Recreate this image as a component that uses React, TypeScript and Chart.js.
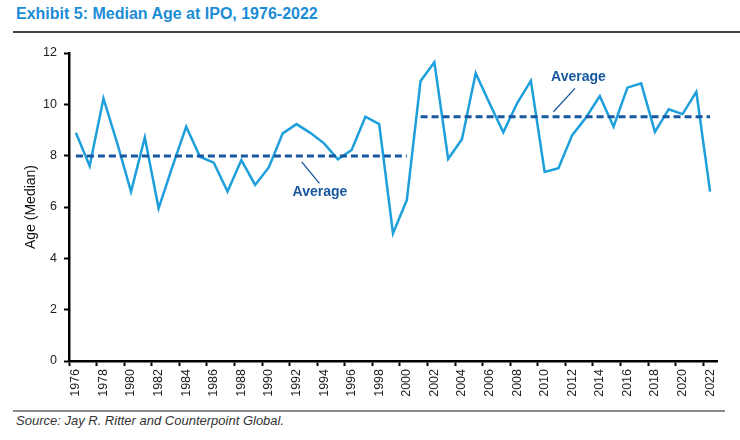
import React, { useEffect, useRef } from "react";
import { Chart, registerables } from "chart.js";

Chart.register(...registerables);

const years = [
  "1976", "1977", "1978", "1979", "1980", "1981", "1982", "1983", "1984", "1985",
  "1986", "1987", "1988", "1989", "1990", "1991", "1992", "1993", "1994", "1995",
  "1996", "1997", "1998", "1999", "2000", "2001", "2002", "2003", "2004", "2005",
  "2006", "2007", "2008", "2009", "2010", "2011", "2012", "2013", "2014", "2015",
  "2016", "2017", "2018", "2019", "2020", "2021", "2022",
];

const medianAge = [
  8.89, 7.6, 10.23, 8.48, 6.6, 8.71, 5.95, 7.57, 9.13, 7.96,
  7.73, 6.6, 7.83, 6.86, 7.55, 8.87, 9.23, 8.89, 8.48, 7.86,
  8.22, 9.52, 9.23, 4.97, 6.27, 10.91, 11.64, 7.87, 8.64, 11.21,
  10.04, 8.91, 10.04, 10.92, 7.37, 7.51, 8.8, 9.49, 10.32, 9.13,
  10.65, 10.82, 8.93, 9.81, 9.62, 10.49, 6.6,
];

const average1976to2000 = 7.99;
const average2001to2022 = 9.52;
const firstPeriodLastYear = "2000";

const yTicks = [0, 2, 4, 6, 8, 10, 12];

// Annotation anchors in data units (category index, value)
const avgLabels = [
  { text: "Average", x: 17.7, y: 6.56, from: [16.38, 7.76], to: [17.66, 6.92] },
  { text: "Average", x: 36.45, y: 11.05, from: [34.64, 9.71], to: [36.2, 10.62] },
];

const FONT = "'Liberation Sans', Arial, sans-serif";
const LINE_BLUE = "#1d9fdc";
const AVG_BLUE = "#17579f";

const avgLabelPlugin = {
  id: "avgLabels",
  afterDatasetsDraw(chart: any) {
    const { ctx, scales } = chart;
    const xs = scales.x;
    const ys = scales.y;
    ctx.save();
    avgLabels.forEach((a) => {
      ctx.strokeStyle = AVG_BLUE;
      ctx.lineWidth = 1.3;
      ctx.beginPath();
      ctx.moveTo(xs.getPixelForValue(a.from[0]), ys.getPixelForValue(a.from[1]));
      ctx.lineTo(xs.getPixelForValue(a.to[0]), ys.getPixelForValue(a.to[1]));
      ctx.stroke();
      ctx.fillStyle = AVG_BLUE;
      ctx.font = `bold 14px ${FONT}`;
      ctx.textAlign = "center";
      ctx.textBaseline = "middle";
      ctx.fillText(a.text, xs.getPixelForValue(a.x), ys.getPixelForValue(a.y));
    });
    ctx.restore();
  },
};

export default function App() {
  const canvasRef = useRef<HTMLCanvasElement | null>(null);

  useEffect(() => {
    if (!canvasRef.current) return;
    const avg1 = years.map((y) => (y <= firstPeriodLastYear ? average1976to2000 : null));
    const avg2 = years.map((y) => (y > firstPeriodLastYear ? average2001to2022 : null));
    const chart = new Chart(canvasRef.current, {
      type: "line",
      data: {
        labels: years,
        datasets: [
          {
            label: "Median age",
            data: medianAge,
            borderColor: LINE_BLUE,
            borderWidth: 2.5,
            pointRadius: 0,
            tension: 0,
            order: 2,
          },
          {
            label: "Average 1976-2000",
            data: avg1,
            borderColor: AVG_BLUE,
            borderWidth: 3,
            borderDash: [7, 4],
            pointRadius: 0,
            spanGaps: false,
            order: 1,
          },
          {
            label: "Average 2001-2022",
            data: avg2,
            borderColor: AVG_BLUE,
            borderWidth: 3,
            borderDash: [7, 4],
            pointRadius: 0,
            spanGaps: false,
            order: 1,
          },
        ],
      },
      options: {
        animation: false,
        responsive: true,
        maintainAspectRatio: false,
        layout: { padding: { left: 0, right: 23, top: 17, bottom: 0 } },
        plugins: {
          legend: { display: false },
          tooltip: { enabled: false },
        },
        scales: {
          x: {
            type: "category",
            offset: true,
            afterFit: (s: any) => {
              s.height = 45;
            },
            grid: {
              offset: true,
              drawOnChartArea: false,
              drawTicks: true,
              tickLength: 5,
              tickWidth: 2,
              tickColor: (c: any) =>
                typeof c.index === "number" && c.index % 2 === 0 ? "#000" : "rgba(0,0,0,0)",
            },
            border: { color: "#000", width: 2.5 },
            ticks: {
              autoSkip: false,
              maxRotation: 90,
              minRotation: 90,
              padding: 3,
              color: "#222",
              font: { family: FONT, size: 12.5 },
              callback: (_v: any, i: number) => (i % 2 === 0 ? years[i] : ""),
            },
          },
          y: {
            min: 0,
            max: 12,
            afterFit: (s: any) => {
              s.width = 69;
            },
            afterBuildTicks: (s: any) => {
              s.ticks = yTicks.map((v) => ({ value: v }));
            },
            grid: {
              drawOnChartArea: false,
              tickLength: 5,
              tickWidth: 2,
              tickColor: "#000",
            },
            border: { color: "#000", width: 2.5 },
            ticks: {
              padding: 7,
              color: "#222",
              font: { family: FONT, size: 12.5 },
            },
            title: {
              display: true,
              text: "Age (Median)",
              color: "#111",
              font: { family: FONT, size: 14 },
              padding: { top: 23, bottom: 0 },
            },
          },
        },
      },
      plugins: [avgLabelPlugin],
    });
    return () => chart.destroy();
  }, []);

  return (
    <div
      style={{
        position: "fixed",
        left: 0,
        top: 0,
        width: 740,
        height: 440,
        background: "#fff",
        fontFamily: FONT,
      }}
    >
      <div
        style={{
          position: "absolute",
          left: 16,
          top: 5,
          fontSize: 16,
          fontWeight: "bold",
          color: "#1b8cd6",
          whiteSpace: "nowrap",
        }}
      >
        Exhibit 5: Median Age at IPO, 1976-2022
      </div>
      <div
        style={{
          position: "absolute",
          left: 13,
          top: 31,
          width: 727,
          height: 2,
          background: "#444",
        }}
      />
      <div style={{ position: "absolute", left: 0, top: 36, width: 740, height: 370 }}>
        <canvas ref={canvasRef} />
      </div>
      <div
        style={{
          position: "absolute",
          left: 13,
          top: 410,
          width: 712,
          height: 2,
          background: "#8a8a8a",
        }}
      />
      <div
        style={{
          position: "absolute",
          left: 16,
          top: 413,
          fontSize: 13,
          fontStyle: "italic",
          color: "#333",
          whiteSpace: "nowrap",
        }}
      >
        Source: Jay R. Ritter and Counterpoint Global.
      </div>
    </div>
  );
}
